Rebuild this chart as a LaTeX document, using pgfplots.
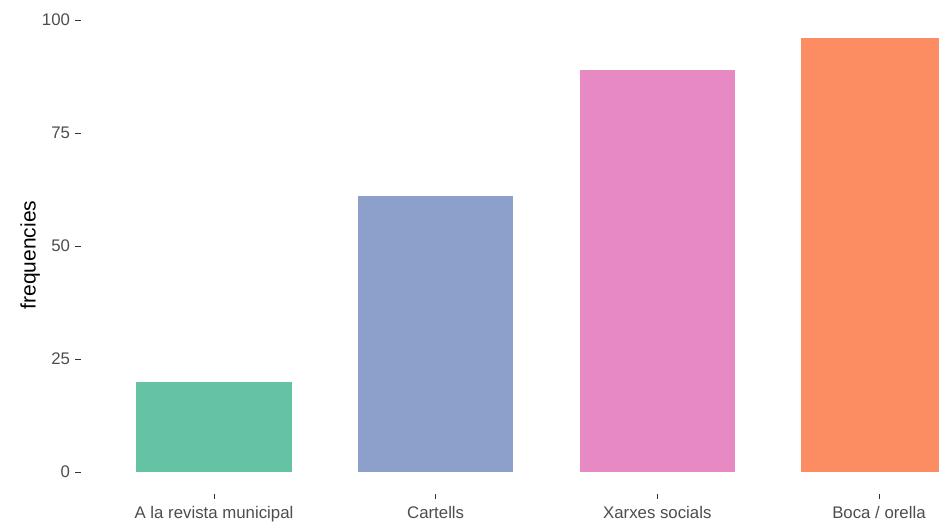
\documentclass[border=0pt]{standalone}
\usepackage{pgfplots}
\pgfplotsset{compat=1.18}
\usepackage{fontspec}
\setmainfont{Liberation Sans}
\definecolor{cA}{HTML}{66C2A5}
\definecolor{cB}{HTML}{8DA0CB}
\definecolor{cC}{HTML}{E78AC3}
\definecolor{cD}{HTML}{FC8D62}
\definecolor{tickc}{HTML}{333333}
\definecolor{labc}{HTML}{4D4D4D}
\begin{document}
\begin{tikzpicture}[x=1pt,y=1pt]
\path[use as bounding box] (0,0) rectangle (939,522);
\begin{axis}[
  at={(81pt,28.3pt)}, anchor=south west,
  scale only axis, width=858pt, height=477.3pt,
  xmin=-0.6, xmax=3.2709, ymin=-4.8, ymax=100.8,
  axis lines*=left, axis line style={draw=none},
  xtick={0,1,2,3},
  xticklabels={A la revista municipal, Cartells, Xarxes socials, Boca / orella},
  ytick={0,25,50,75,100},
  tick align=outside, major tick length=5.5pt,
  tick style={draw=tickc, line width=0.8pt},
  ticklabel style={font=\fontsize{16.8}{20}\selectfont, text=labc},
  xticklabel style={yshift=-3.5pt},
  yticklabel style={xshift=-2pt},
  /pgf/number format/assume math mode=true,
  ylabel={frequencies},
  ylabel shift=-5pt,
  ylabel style={font=\fontsize{21}{25}\selectfont, text=black},
  clip=true,
]
\addplot[ybar, bar width=0.7, bar shift=0pt, fill=cA, draw=none] coordinates {(0,20)};
\addplot[ybar, bar width=0.7, bar shift=0pt, fill=cB, draw=none] coordinates {(1,61)};
\addplot[ybar, bar width=0.7, bar shift=0pt, fill=cC, draw=none] coordinates {(2,89)};
\addplot[ybar, bar width=0.7, bar shift=0pt, fill=cD, draw=none] coordinates {(3,96)};
\end{axis}
\end{tikzpicture}
\end{document}
